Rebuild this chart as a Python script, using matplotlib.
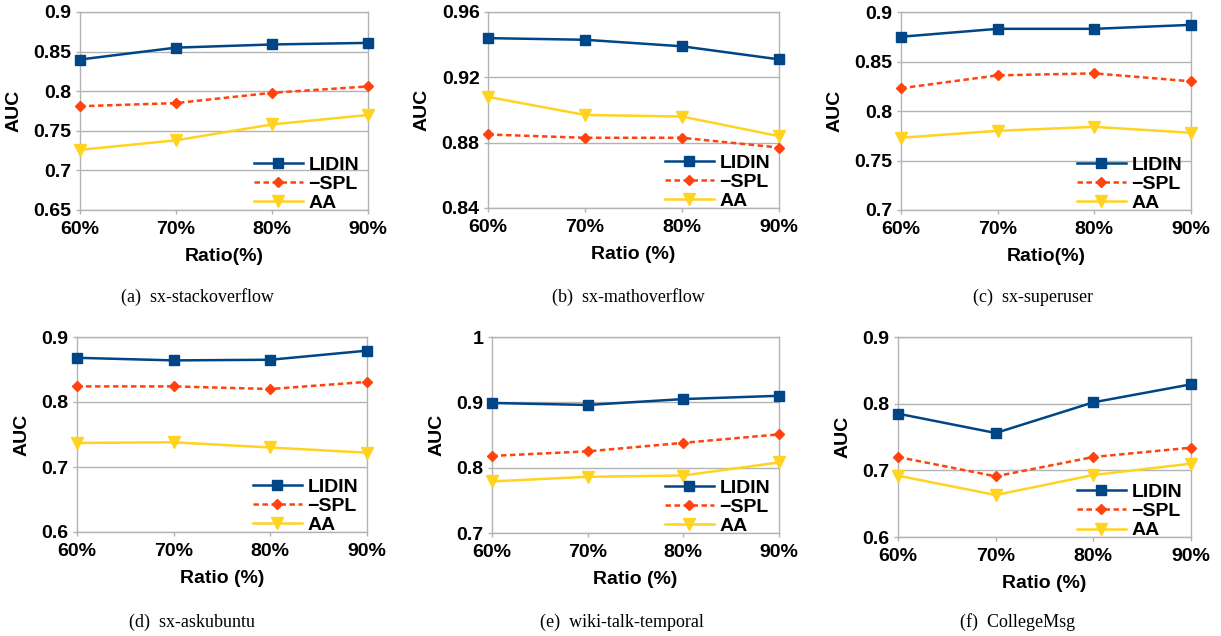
import matplotlib
matplotlib.use('Agg')
import matplotlib.pyplot as plt

plt.rcParams['font.family'] = ['Liberation Sans', 'DejaVu Sans']

ratios = ['60%', '70%', '80%', '90%']
methods = ['LIDIN', '\u2212SPL', 'AA']

captions = ['(a)  sx-stackoverflow', '(b)  sx-mathoverflow', '(c)  sx-superuser',
            '(d)  sx-askubuntu', '(e)  wiki-talk-temporal', '(f)  CollegeMsg']
xlabels = ['Ratio(%)', 'Ratio (%)', 'Ratio(%)', 'Ratio (%)', 'Ratio (%)', 'Ratio (%)']

lidin = [
    [0.840, 0.855, 0.859, 0.861],
    [0.944, 0.943, 0.939, 0.931],
    [0.875, 0.883, 0.883, 0.887],
    [0.868, 0.864, 0.865, 0.879],
    [0.899, 0.896, 0.905, 0.910],
    [0.785, 0.756, 0.802, 0.829],
]
spl = [
    [0.781, 0.785, 0.798, 0.806],
    [0.885, 0.883, 0.883, 0.877],
    [0.823, 0.836, 0.838, 0.830],
    [0.824, 0.824, 0.820, 0.831],
    [0.818, 0.825, 0.838, 0.851],
    [0.720, 0.691, 0.720, 0.734],
]
aa = [
    [0.726, 0.738, 0.758, 0.770],
    [0.908, 0.897, 0.896, 0.884],
    [0.773, 0.780, 0.784, 0.778],
    [0.737, 0.738, 0.730, 0.722],
    [0.779, 0.786, 0.788, 0.808],
    [0.692, 0.663, 0.693, 0.710],
]

yticks = [
    [0.65, 0.7, 0.75, 0.8, 0.85, 0.9],
    [0.84, 0.88, 0.92, 0.96],
    [0.7, 0.75, 0.8, 0.85, 0.9],
    [0.6, 0.7, 0.8, 0.9],
    [0.7, 0.8, 0.9, 1.0],
    [0.6, 0.7, 0.8, 0.9],
]
ytick_labels = [
    ['0.65', '0.7', '0.75', '0.8', '0.85', '0.9'],
    ['0.84', '0.88', '0.92', '0.96'],
    ['0.7', '0.75', '0.8', '0.85', '0.9'],
    ['0.6', '0.7', '0.8', '0.9'],
    ['0.7', '0.8', '0.9', '1'],
    ['0.6', '0.7', '0.8', '0.9'],
]

W, H = 1221, 636
# axes boxes in pixels: left, right, top, bottom
boxes = [(80, 368, 12, 210), (488, 779, 12, 208), (901, 1191, 12, 210),
         (77, 367, 337, 532), (492, 779, 337, 533), (898, 1191, 337, 537)]
cap_pos = [(197, 297), (628, 297), (1033, 297), (192, 622), (622, 622), (1018, 622)]

c_lidin = '#004586'
c_spl = '#ff420e'
c_aa = '#ffd320'
grid_c = '#b3b3b3'

fig = plt.figure(figsize=(W / 100, H / 100), dpi=100)

for i in range(6):
    l, r, t, b = boxes[i]
    ax = fig.add_axes([l / W, (H - b) / H, (r - l) / W, (b - t) / H])
    x = range(len(ratios))
    ax.plot(x, lidin[i], color=c_lidin, lw=1.8, marker='s', ms=7.5, label=methods[0], clip_on=False, zorder=5)
    ax.plot(x, spl[i], color=c_spl, lw=1.8, ls=(0, (2.2, 1.4)), marker='D', ms=5.5, label=methods[1], clip_on=False, zorder=4)
    ax.plot(x, aa[i], color=c_aa, lw=1.8, marker='v', ms=8.5, label=methods[2], clip_on=False, zorder=3)

    ax.set_xlim(0, 3)
    ax.set_ylim(yticks[i][0], yticks[i][-1])
    ax.set_xticks(list(x))
    ax.set_xticklabels(ratios)
    ax.set_yticks(yticks[i])
    ax.set_yticklabels(ytick_labels[i])
    ax.yaxis.grid(True, color=grid_c, lw=1)
    ax.set_axisbelow(True)
    for s in ax.spines.values():
        s.set_color(grid_c)
        s.set_linewidth(1)
    ax.tick_params(axis='both', colors=grid_c, length=3, width=1, labelsize=14)
    ax.tick_params(axis='x', pad=5)
    ax.tick_params(axis='y', pad=3)
    for lab in ax.get_xticklabels() + ax.get_yticklabels():
        lab.set_color('black')
        lab.set_fontweight('bold')
    ax.set_ylabel('AUC', fontsize=14, fontweight='bold', labelpad=8)
    ax.set_xlabel(xlabels[i], fontsize=14, fontweight='bold', labelpad=7)

    leg = ax.legend(loc='lower right', bbox_to_anchor=(1.01, -0.07), frameon=False,
                    fontsize=14, handlelength=2.5, handletextpad=0.3,
                    labelspacing=0.08, borderaxespad=0.2)
    for txt in leg.get_texts():
        txt.set_fontweight('bold')

    cx, cy = cap_pos[i]
    fig.text(cx / W, 1 - cy / H, captions[i], ha='center', va='center',
             fontsize=13, family=['Liberation Serif', 'DejaVu Serif'])

fig.savefig('out.png', dpi=100)
